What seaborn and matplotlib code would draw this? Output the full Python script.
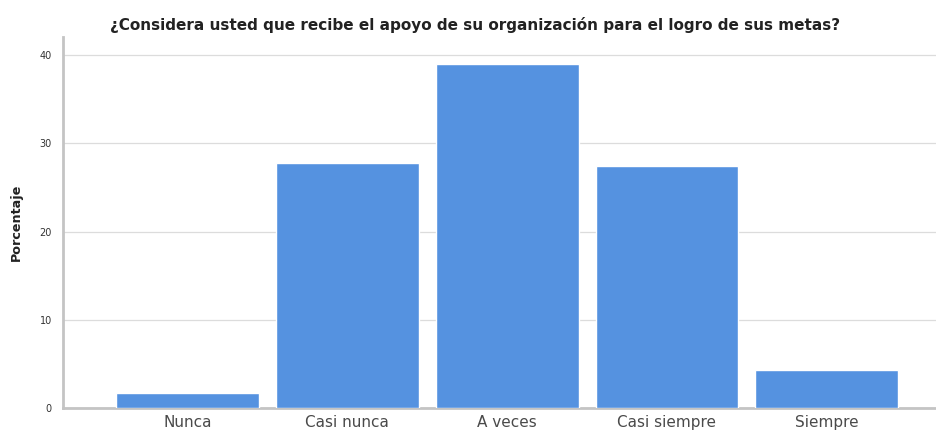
import matplotlib
matplotlib.use("Agg")
import matplotlib.pyplot as plt
import seaborn as sns
import pandas as pd

categories = ["Nunca", "Casi nunca", "A veces", "Casi siempre", "Siempre"]
porcentaje = [1.7, 27.7, 38.9, 27.4, 4.3]
y_ticks = [0, 10, 20, 30, 40]

df = pd.DataFrame({"categoria": categories, "porcentaje": porcentaje})

sns.set_theme(style="white")
plt.rcParams["font.family"] = ["DejaVu Sans"]

fig = plt.figure(figsize=(9.37, 4.32), dpi=100)
ax = fig.add_axes([0.0672, 0.0544, 0.9328, 0.86])

sns.barplot(data=df, x="categoria", y="porcentaje", color="#5592E0",
            saturation=1, width=0.894, ax=ax, zorder=3)

ax.set_xlim(-0.78, 4.69)
ax.set_ylim(0, 42)
ax.set_yticks(y_ticks)
ax.set_yticklabels([str(t) for t in y_ticks], fontsize=7, color="#333333")
ax.tick_params(axis="y", length=3, width=0.6, color="#c4c4c4", pad=5)
ax.tick_params(axis="x", length=0, pad=5, labelsize=11, labelcolor="#4a4a4a")

ax.grid(axis="y", color="#dcdcdc", linewidth=0.9, zorder=0)
for s in ["top", "right"]:
    ax.spines[s].set_visible(False)
for s in ["left", "bottom"]:
    ax.spines[s].set_color("#c4c4c4")
    ax.spines[s].set_linewidth(2)

ax.set_xlabel("")
ax.set_ylabel("Porcentaje", fontsize=9.2, fontweight="bold", color="#222222")
ax.yaxis.set_label_coords(-0.046, 0.5)
fig.text(0.507, 0.942, "¿Considera usted que recibe el apoyo de su organización para el logro de sus metas?",
         ha="center", va="center", fontsize=11, fontweight="bold", color="#222222")

fig.savefig("out.png", dpi=100)
